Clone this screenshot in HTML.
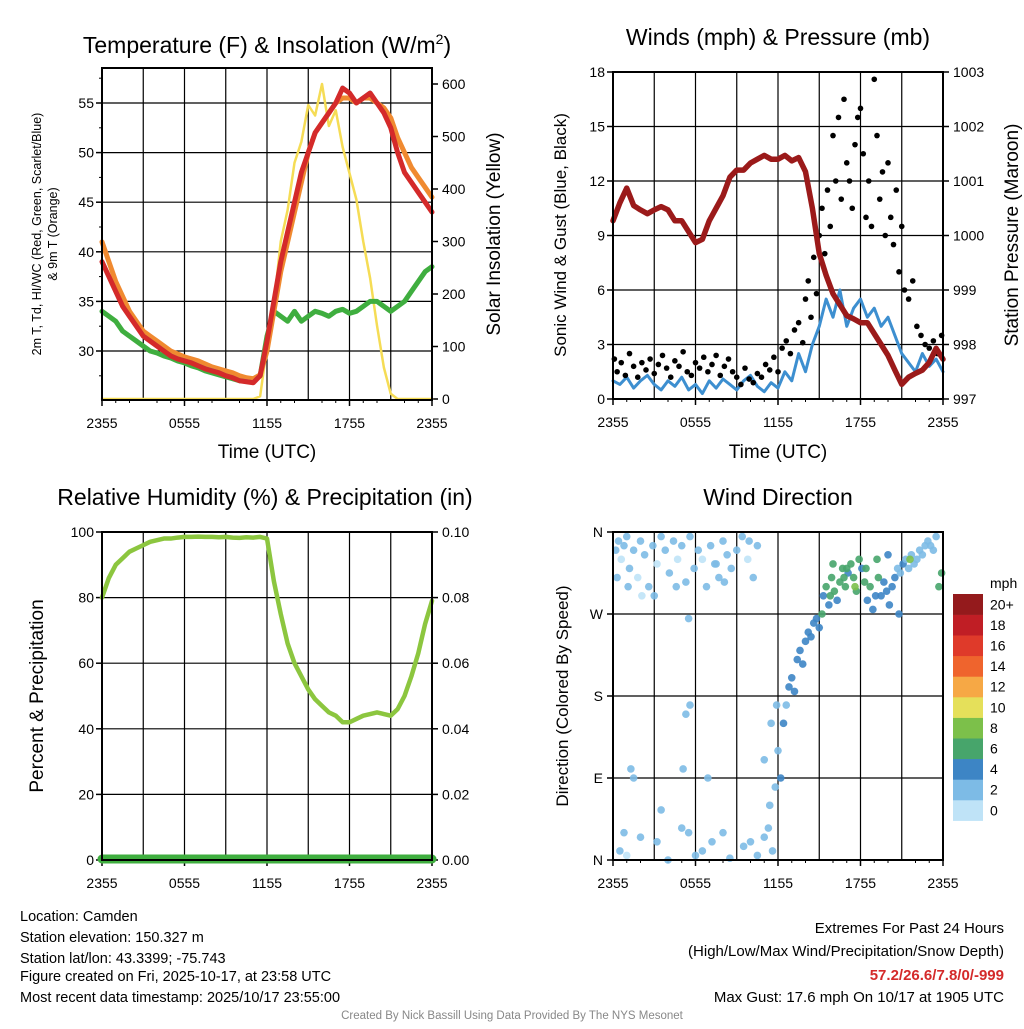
<!DOCTYPE html>
<html><head><meta charset="utf-8"><style>
body{margin:0;background:#fff;width:1024px;height:1024px;overflow:hidden}
svg{font-family:"Liberation Sans",sans-serif}
</style></head><body>
<svg id="s" width="1024" height="1024" xmlns="http://www.w3.org/2000/svg"></svg>
<script>
// ---------- DATA ----------
const xTickLabels=["2355","0555","1155","1755","2355"];
const tempRed=[39,37.5,36,34.5,33.5,32.5,31.5,31,30.5,30,29.5,29.2,29,28.8,28.5,28.2,28,27.8,27.5,27.3,27,26.9,26.8,27.5,31,35,39,42,45,48,50,52,53,54,55,56.5,56,55,55.5,56,55,54,52.5,50,48,47,46,45,44];
const tempOrange=[41,39,37,35.5,34,33,32,31.5,31,30.5,30,29.7,29.4,29.2,29,28.7,28.4,28.2,28,27.8,27.5,27.3,27.2,27.6,30,34,38,41,44,47,50,52,53,54,55,55.5,55.5,55,55.5,55.5,55,54.5,53.5,51.5,50,48.5,47.5,46.5,45.5];
const dewGreen=[34,33.5,33,32,31.5,31,30.5,30,29.8,29.5,29.3,29,28.8,28.5,28.3,28,27.8,27.6,27.4,27.2,27,27,27,27.5,31.5,34,33.5,33,34,33,33.5,34,33.8,33.5,34,34.2,33.8,34,34.5,35,35,34.5,34,34.5,35,36,37,38,38.5];
const solar=[0,0,0,0,0,0,0,0,0,0,0,0,0,0,0,0,0,0,0,0,0,0,0,5,100,180,300,360,450,490,560,540,600,520,550,480,430,380,300,230,140,60,10,0,0,0,0,0,0];
const windSpeed=[1,0.8,1.2,0.6,1,1.3,0.8,0.5,1,0.7,1.2,0.5,0.8,0.3,1,0.6,1.1,0.8,0.5,1,1.3,0.7,0.4,0.9,0.6,1.5,1,2.5,1.5,3,4,5.5,4.5,6,4,5,5.5,4.5,5,4,4.5,3.5,2.5,2,1.5,2.5,1.8,2.2,1.5];
const pressure=[1000.27,1000.6,1000.87,1000.55,1000.47,1000.4,1000.47,1000.53,1000.47,1000.27,1000.27,1000.07,999.87,999.93,1000.27,1000.5,1000.73,1001.07,1001.2,1001.2,1001.33,1001.4,1001.47,1001.4,1001.4,1001.47,1001.37,1001.43,1001.17,1000.5,999.67,999.27,998.93,998.73,998.53,998.47,998.4,998.4,998.2,998,997.8,997.53,997.27,997.4,997.47,997.53,997.67,997.93,997.73];
const gustT=[0.1,0.3,0.6,0.9,1.2,1.5,1.8,2.1,2.4,2.7,3.0,3.3,3.6,3.9,4.2,4.5,4.8,5.1,5.4,5.7,6.0,6.3,6.6,6.9,7.2,7.5,7.8,8.1,8.4,8.7,9.0,9.3,9.6,9.9,10.2,10.5,10.8,11.1,11.4,11.7,12.0,12.3,12.6,12.9,13.2,13.5,13.8,14.0,14.2,14.4,14.6,14.8,15.0,15.2,15.4,15.6,15.8,16.0,16.2,16.4,16.6,16.8,17.0,17.2,17.4,17.6,17.8,18.0,18.2,18.4,18.6,18.8,19.0,19.2,19.4,19.6,19.8,20.0,20.2,20.4,20.6,20.8,21.0,21.2,21.5,21.8,22.1,22.4,22.7,23.0,23.3,23.6,23.9];
const gustV=[2.2,1.5,2,1.3,2.5,1.8,1.2,2,1.6,2.2,1.4,1.9,2.4,1.7,1.2,2.1,1.8,2.6,1.5,1.3,2,1.7,2.3,1.5,1.9,2.4,1.3,1.8,2.2,1.5,1.2,0.8,1.7,1.1,0.9,1.4,1.2,1.9,1.6,2.3,1.5,2.8,3.2,2.5,3.8,4.2,3.1,5.5,6.5,4.5,7.8,5.8,9,10.5,8,11.5,9.5,14.5,12,15.5,11,16.5,13,12,10.5,14,15.5,16,13.5,10,12,9.5,17.6,14.5,11,12.5,9,13,10,8.5,11.5,7,9.5,6,5.5,6.5,4,3.5,3,2.8,3.2,2.5,3.5];
const rh=[80,86,90,92,94,95,96,97,97.5,98,98,98.3,98.5,98.5,98.6,98.5,98.5,98.4,98.5,98.3,98.2,98.4,98.3,98.5,98,85,75,66,60,56,52,49,47,45,44,42,42,43,44,44.5,45,44.5,44,46,50,56,63,72,79];
const dirT=[0.2,0.4,0.6,0.8,1.0,1.2,1.5,1.8,2.0,2.3,2.6,2.9,3.2,3.5,3.8,4.1,4.4,4.7,5.0,5.3,5.6,5.9,6.2,6.5,6.8,7.1,7.4,7.7,8.0,8.3,8.6,9.0,9.4,9.8,10.2,10.5,0.3,1.1,2.1,4.6,3.0,8.1,5.5,7.5,9.9,0.5,0.8,1.0,1.5,2.0,3.2,3.5,4.0,5.0,5.5,6.5,7.2,8.0,9.5,10.0,10.5,11.3,11.6,11.4,11.8,11.0,6.0,8.5,1.3,5.1,5.3,5.6,6.9,11.0,11.5,11.9,12.0,12.2,12.4,12.6,12.8,13.0,13.2,13.4,13.6,13.8,14.0,14.2,14.4,14.6,14.8,15.0,15.2,15.3,15.5,15.7,15.9,16.1,16.3,16.5,16.7,16.9,17.1,17.3,17.5,17.7,17.9,18.1,18.3,18.5,18.7,18.9,19.1,19.3,19.5,19.7,19.9,20.1,20.3,20.5,20.7,20.9,21.1,21.3,21.5,21.7,21.9,22.1,22.3,22.5,22.7,22.9,23.1,23.3,23.5,23.7,23.9,16.0,16.8,17.6,18.4,19.2,20.0,20.8,21.6,15.8,17.0,18.0,19.0];
const dirD=[340,350,330,345,355,320,340,310,350,335,300,345,325,355,340,315,350,330,345,305,355,320,340,330,300,345,325,310,350,335,320,340,355,330,310,345,310,300,290,300,290,305,265,325,350,10,30,5,90,25,20,55,0,35,30,10,20,30,15,20,5,35,10,60,80,25,5,2,100,100,160,170,90,110,150,170,120,90,150,170,190,200,185,220,230,215,240,250,245,260,265,255,270,290,300,280,310,295,285,305,320,300,315,325,310,295,330,320,305,285,300,275,290,310,290,305,295,280,300,310,320,315,325,330,320,335,325,330,340,335,345,350,345,340,355,300,315,325,310,300,320,330,335,270,330,290,320];
const dirS=[1,1,0,1,1,2,1,0,1,1,1,1,0,1,1,1,1,0,1,1,1,1,1,0,1,1,1,1,1,1,1,1,1,0,1,1,1,1,0,1,1,1,1,1,1,1,1,0,1,1,1,1,1,1,1,1,1,1,1,1,1,2,1,2,2,1,1,1,1,1,1,1,1,2,2,2,2,3,3,2,3,3,4,3,4,3,4,4,3,4,4,4,5,4,5,4,6,5,4,6,5,6,4,5,6,6,5,4,5,4,6,4,4,5,4,3,4,3,3,3,2,2,3,2,2,2,2,2,2,2,2,2,2,2,2,6,6,6,6,7,5,5,4,4,8,6,6];
const speedColors=["#bfe3f7","#7dbbe6","#3d85c5","#47a56b","#7cc04a","#e5e05a","#f6a845","#ef642d","#df3a2a","#c01e25","#941a1c"];
const cbLabels=["0","2","4","6","8","10","12","14","16","18","20+"];

// ---------- helpers ----------
const S=document.getElementById('s');const NS="http://www.w3.org/2000/svg";
function el(t,a,txt){const e=document.createElementNS(NS,t);for(const k in a)e.setAttribute(k,a[k]);if(txt!==undefined)e.textContent=txt;S.appendChild(e);return e;}
function txt(x,y,s,size,anchor,rot,fill,weight){const a={x:x,y:y,'font-size':size,'text-anchor':anchor||'middle',fill:fill||'#000'};if(weight)a['font-weight']=weight;if(rot)a.transform=`rotate(${rot} ${x} ${y})`;return el('text',a,s);}
const tIdx=i=>i*0.5;

function panel(x0,x1,y0,y1,name){
  const xs=h=>x0+(x1-x0)*h/24;
  for(let k=1;k<8;k++){const g=el('line',{x1:xs(k*3),x2:xs(k*3),y1:y0,y2:y1,stroke:'#000','stroke-width':1.2});}
  xTickLabels.forEach((l,i)=>{const t=txt(xs(i*6),y1+28,l,14);
    el('line',{x1:xs(i*6),x2:xs(i*6),y1:y1,y2:y1+6,stroke:'#000','stroke-width':1.5});});
  for(let k=1;k<24;k+=1){if(k%3)el('line',{x1:xs(k),x2:xs(k),y1:y1,y2:y1+3,stroke:'#000'});}
  return xs;
}
function frame(x0,x1,y0,y1,name){const r=el('rect',{x:x0,y:y0,width:x1-x0,height:y1-y0,fill:'none',stroke:'#000','stroke-width':2});}
function poly(pts,color,w,name){const p=el('polyline',{points:pts.map(p=>p.join(',')).join(' '),fill:'none',stroke:color,'stroke-width':w,'stroke-linejoin':'round','stroke-linecap':'round'});return p;}

// ---------- Panel 1: temperature ----------
{const x0=102,x1=432,y0=68,y1=400;const xs=panel(x0,x1,y0,y1,'temp');
 const yT=v=>351-(v-30)*9.92, yS=v=>399-v*0.525;
 for(let v=30;v<=55;v+=5){el('line',{x1:x0,x2:x1,y1:yT(v),y2:yT(v),stroke:'#000','stroke-width':1.2});
   const t=txt(x0-8,yT(v)+5,String(v),14,'end');
   el('line',{x1:x0-6,x2:x0,y1:yT(v),y2:yT(v),stroke:'#000','stroke-width':1.5});}
 for(let v=27.5;v<58;v+=5)el('line',{x1:x0-3,x2:x0,y1:yT(v),y2:yT(v),stroke:'#000'});
 for(let v=0;v<=600;v+=100){el('line',{x1:x1,x2:x1+6,y1:yS(v),y2:yS(v),stroke:'#000','stroke-width':1.5});
   const t=txt(x1+10,yS(v)+5,String(v),14,'start');}
 poly(solar.map((v,i)=>[xs(tIdx(i)),yS(v)]),'#f5dc55',2.5,'solar-insolation-line');
 poly(dewGreen.map((v,i)=>[xs(tIdx(i)),yT(v)]),'#3fae3f',5,'dewpoint-line');
 poly(tempOrange.map((v,i)=>[xs(tIdx(i)),yT(v)]),'#f08a30',5,'temp-9m-line');
 poly(tempRed.map((v,i)=>[xs(tIdx(i)),yT(v)-0.5]),'#3d85c5',4,'hi-wc-line');
 poly(tempRed.map((v,i)=>[xs(tIdx(i)),yT(v)]),'#d42a2a',5,'temp-2m-line');
 frame(x0,x1,y0,y1,'temp');
 let t=txt(267,53,'Temperature (F) & Insolation (W/m',23);
 const ts1=document.createElementNS(NS,'tspan');ts1.setAttribute('dy','-9');ts1.setAttribute('font-size','14');ts1.textContent='2';t.appendChild(ts1);
 const ts2=document.createElementNS(NS,'tspan');ts2.setAttribute('dy','9');ts2.textContent=')';t.appendChild(ts2);
 t=txt(267,458,'Time (UTC)',19);
 t=txt(41,234,'2m T, Td, HI/WC (Red, Green, Scarlet/Blue)',12.5,'middle',-90);
 t=txt(57,234,'& 9m T (Orange)',12.5,'middle',-90);
 t=txt(500,234,'Solar Insolation (Yellow)',19,'middle',-90);
}
// ---------- Panel 2: winds ----------
{const x0=613,x1=943,y0=72,y1=399;const xs=panel(x0,x1,y0,y1,'wind');
 const yW=v=>399-v*(327/18), yP=v=>399-(v-997)*(327/6);
 for(let v=0;v<=18;v+=3){if(v>0&&v<18)el('line',{x1:x0,x2:x1,y1:yW(v),y2:yW(v),stroke:'#000','stroke-width':1.2});
   el('line',{x1:x0-6,x2:x0,y1:yW(v),y2:yW(v),stroke:'#000','stroke-width':1.5});
   const t=txt(x0-8,yW(v)+5,String(v),14,'end');}
 for(let v=997;v<=1003;v++){el('line',{x1:x1,x2:x1+6,y1:yP(v),y2:yP(v),stroke:'#000','stroke-width':1.5});
   const t=txt(x1+10,yP(v)+5,String(v),14,'start');}
 poly(windSpeed.map((v,i)=>[xs(tIdx(i)),yW(v)]),'#3d8fd0',3,'sonic-wind-line');
 const nG=Math.min(gustT.length,gustV.length);
 for(let i=0;i<nG;i++){if(!Number.isFinite(gustV[i])||!Number.isFinite(gustT[i]))continue;
   const c=el('circle',{cx:xs(gustT[i]),cy:yW(gustV[i]),r:2.8,fill:'#000'});
   
   }
 poly(pressure.map((v,i)=>[xs(tIdx(i)),yP(v)]),'#9b1a1a',5.5,'pressure-line');
 frame(x0,x1,y0,y1,'wind');
 let t=txt(778,45,'Winds (mph) & Pressure (mb)',23);
 t=txt(778,458,'Time (UTC)',19);
 t=txt(566,235,'Sonic Wind & Gust (Blue, Black)',17,'middle',-90);
 t=txt(1018,235,'Station Pressure (Maroon)',19,'middle',-90);
}
// ---------- Panel 3: RH ----------
{const x0=102,x1=432,y0=532,y1=860;const xs=panel(x0,x1,y0,y1,'rh');
 const yR=v=>860-v*3.28;
 for(let v=0;v<=100;v+=20){if(v>0&&v<100)el('line',{x1:x0,x2:x1,y1:yR(v),y2:yR(v),stroke:'#000','stroke-width':1.2});
   el('line',{x1:x0-6,x2:x0,y1:yR(v),y2:yR(v),stroke:'#000','stroke-width':1.5});
   el('line',{x1:x1,x2:x1+6,y1:yR(v),y2:yR(v),stroke:'#000','stroke-width':1.5});
   let t=txt(x0-8,yR(v)+5,String(v),14,'end');
   t=txt(x1+10,yR(v)+5,(v/1000).toFixed(2),14,'start');}
 poly(rh.map((v,i)=>[xs(tIdx(i)),yR(v)]),'#8cc63f',4.5,'rh-line');
 poly([[x0,859],[x1,859]],'#3fae3f',9,'precip-line');
 frame(x0,x1,y0,y1,'rh');
 let t=txt(265,505,'Relative Humidity (%) & Precipitation (in)',23);
 t=txt(43,696,'Percent & Precipitation',19,'middle',-90);
}
// ---------- Panel 4: direction ----------
{const x0=613,x1=943,y0=532,y1=860;const xs=panel(x0,x1,y0,y1,'dir');
 const yD=v=>860-v*(328/360);
 ["N","E","S","W","N"].forEach((l,i)=>{const v=i*90;if(i>0&&i<4)el('line',{x1:x0,x2:x1,y1:yD(v),y2:yD(v),stroke:'#000','stroke-width':1.2});
   el('line',{x1:x0-6,x2:x0,y1:yD(v),y2:yD(v),stroke:'#000','stroke-width':1.5});
   const t=txt(x0-10,yD(v)+5,l,14,'end');});
 const nD=Math.min(dirT.length,dirD.length,dirS.length);
 for(let i=0;i<nD;i++){
   const c=el('circle',{cx:xs(dirT[i]),cy:yD(dirD[i]),r:3.8,fill:speedColors[Math.min(10,Math.round(dirS[i]/2))],'fill-opacity':0.9});
   
   }
 frame(x0,x1,y0,y1,'dir');
 let t=txt(778,505,'Wind Direction',23);
 t=txt(568,696,'Direction (Colored By Speed)',17,'middle',-90);
 const bh=20.6;
 speedColors.forEach((c,i)=>{const y=594+(10-i)*bh;const r=el('rect',{x:953,y:y,width:30,height:bh+0.3,fill:c});
   const tt=txt(990,y+bh/2+5,cbLabels[i],14,'start');});
 t=txt(990,588,'mph',14,'start');
}
// ---------- footer ----------
[["Location: Camden",921],["Station elevation: 150.327 m",942],["Station lat/lon: 43.3399; -75.743",963],["Figure created on Fri, 2025-10-17, at 23:58 UTC",981],["Most recent data timestamp: 2025/10/17 23:55:00",1002]].forEach(a=>{const t=txt(20,a[1],a[0],14.5,'start');});
[["Extremes For Past 24 Hours",933,'#000',null],["(High/Low/Max Wind/Precipitation/Snow Depth)",956,'#000',null],["57.2/26.6/7.8/0/-999",980,'#d42a2a','bold'],["Max Gust: 17.6 mph On 10/17 at 1905 UTC",1002,'#000',null]].forEach(a=>{const t=txt(1004,a[1],a[0],15,'end',null,a[2],a[3]);});
{const t=txt(512,1019,'Created By Nick Bassill Using Data Provided By The NYS Mesonet',11.5,'middle',null,'#888');}
</script>
</body></html>
